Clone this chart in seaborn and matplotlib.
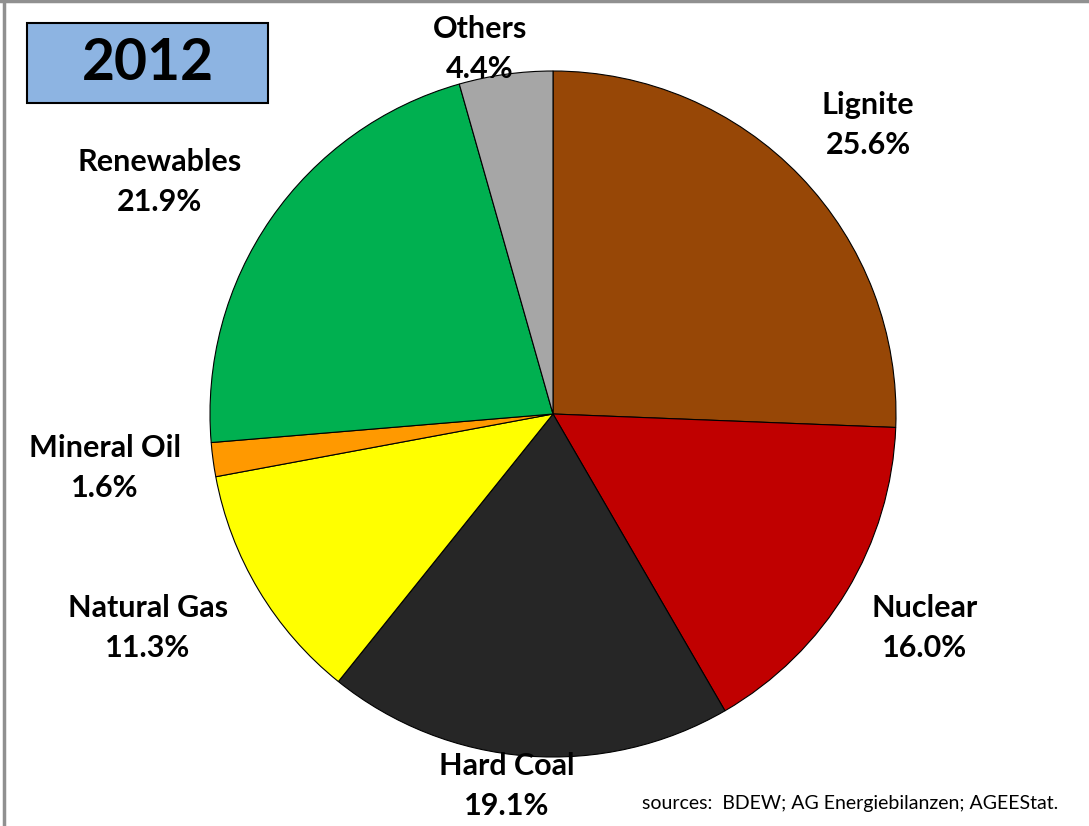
import matplotlib
matplotlib.use("Agg")
import matplotlib.pyplot as plt
import seaborn as sns
from matplotlib.patches import Rectangle
from matplotlib.lines import Line2D

sns.set_theme(style="white")
plt.rcParams['font.family'] = ['Lato', 'DejaVu Sans']

categories = ["Lignite", "Nuclear", "Hard Coal", "Natural Gas", "Mineral Oil", "Renewables", "Others"]
values = [25.6, 16.0, 19.1, 11.3, 1.6, 21.9, 4.4]
colors = ["#974706", "#C00000", "#262626", "#FFFF00", "#FF9900", "#00B050", "#A6A6A6"]
year = "2012"
source_text = "sources:  BDEW; AG Energiebilanzen; AGEEStat."

W, H = 1089, 826
fig = plt.figure(figsize=(W / 100, H / 100), dpi=100)
ax = fig.add_axes([0, 0, 1, 1])

cx, cy, r = 553, H - 414, 343
ax.pie(values, colors=colors, startangle=90, counterclock=False,
       center=(cx, cy), radius=r,
       wedgeprops=dict(edgecolor="black", linewidth=0.8))
ax.set_xlim(0, W)
ax.set_ylim(0, H)
ax.set_aspect("equal")
ax.axis("off")

# label positions in pixel coords (top-left origin)
label_pos = {
    "Lignite": (868, 125),
    "Nuclear": (925, 628),
    "Hard Coal": (507, 786),
    "Natural Gas": (148, 628),
    "Mineral Oil": (105, 468),
    "Renewables": (160, 182),
    "Others": (480, 49),
}
for cat, val in zip(categories, values):
    x, y = label_pos[cat]
    ax.text(x, H - y, f"{cat}\n{val:.1f}%", ha="center", va="center",
            fontsize=22, fontweight="bold", color="black", linespacing=1.55)

# year box
ax.add_patch(Rectangle((27, H - 103), 241, 80, facecolor="#8DB4E2",
                       edgecolor="black", linewidth=1.5, zorder=5))
ax.text(27 + 241 / 2, H - 63, year, ha="center", va="center",
        fontsize=41, fontweight="bold", color="black", zorder=6)

# sources
ax.text(1058, H - 803, source_text, ha="right", va="center", fontsize=14, color="black")

# frame lines (left and top)
fig.add_artist(Line2D([4 / W, 4 / W], [0, 1], color="#909090", linewidth=2.5, transform=fig.transFigure))
fig.add_artist(Line2D([0, 1], [1 - 1 / H, 1 - 1 / H], color="#909090", linewidth=2.5, transform=fig.transFigure))

fig.savefig("out.png", dpi=100)
